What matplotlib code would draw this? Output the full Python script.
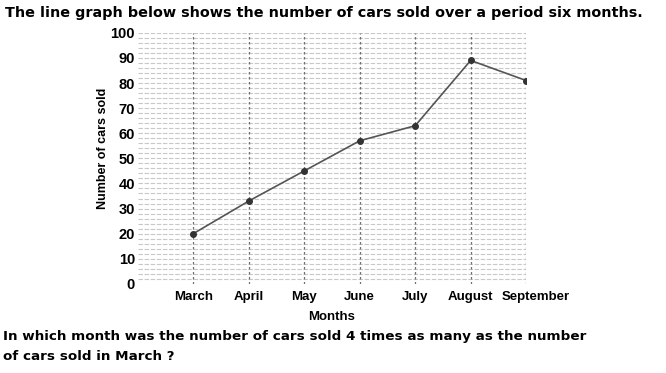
import numpy as np
import matplotlib.pyplot as plt
import matplotlib.transforms as mtransforms

plt.rcParams["font.family"] = ["Liberation Sans", "DejaVu Sans"]

months = ["March", "April", "May", "June", "July", "August", "September"]
cars_sold = [20, 33, 45, 57, 63, 89, 81]
y_ticks = [0, 10, 20, 30, 40, 50, 60, 70, 80, 90, 100]

fig = plt.figure(figsize=(6.66, 3.73), dpi=100)
ax = fig.add_axes([0.207, 0.239, 0.583, 0.673])

x = np.arange(1, len(months) + 1)

# light horizontal grid every 2 cars
for yv in np.arange(2, 101, 2):
    ax.axhline(yv, color="#c8c8c8", lw=0.8, ls=(0, (4, 1.5)), zorder=0)
# dashed verticals at each month
for xv in x:
    ax.axvline(xv, color="#707070", lw=0.9, ls=(0, (2, 2)), zorder=1)

ax.plot(x, cars_sold, color="#555555", lw=1.2, marker="o", ms=4,
        markerfacecolor="#333333", markeredgecolor="#333333", zorder=3)

ax.set_xlim(0, 7)
ax.set_ylim(0, 100)
ax.set_xticks(x)
ax.set_xticklabels(months, fontweight="bold", fontsize=9.5)
ax.set_yticks(y_ticks)
ax.set_yticklabels([str(v) for v in y_ticks], fontweight="bold", fontsize=10.5)
ax.tick_params(axis="x", length=0, pad=5)
ax.tick_params(axis="y", length=0, pad=2)
for s in ax.spines.values():
    s.set_visible(False)

# September label sits a little to the right, as in the original
lbl = ax.get_xticklabels()[-1]
lbl.set_transform(lbl.get_transform() + mtransforms.ScaledTranslation(0.1, 0, fig.dpi_scale_trans))

ax.set_ylabel("Number of cars sold", fontweight="bold", fontsize=9)
ax.yaxis.set_label_coords(-0.075, 0.54)
ax.set_xlabel("Months", fontweight="bold", fontsize=9.5, labelpad=6)

title_font = dict(family="DejaVu Sans", fontweight="bold", va="center", ha="left")
fig.text(0.008, 0.965, "The line graph below shows the number of cars sold over a period six months.",
         fontsize=10.4, **title_font)
fig.text(0.005, 0.097, "In which month was the number of cars sold 4 times as many as the number",
         fontsize=9.7, **title_font)
fig.text(0.005, 0.043, "of cars sold in March ?",
         fontsize=9.7, **title_font)

fig.savefig("out.png", dpi=100)
